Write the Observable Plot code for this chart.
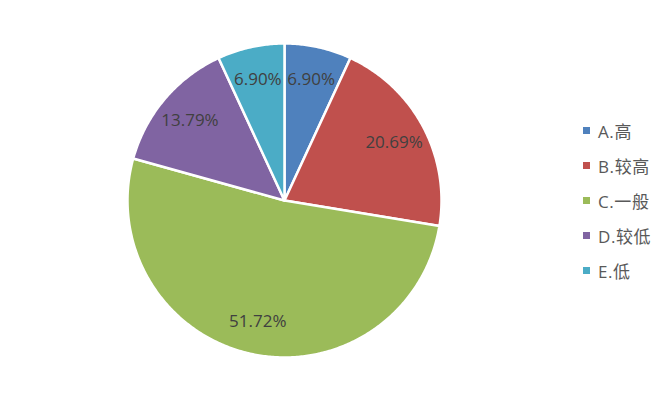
<!DOCTYPE html>
<html><head><meta charset="utf-8">
<script src="https://cdn.jsdelivr.net/npm/d3@7"></script>
<script src="https://cdn.jsdelivr.net/npm/@observablehq/plot@0.6"></script>
<style>
body{margin:0;background:#fff;font-family:"Open Sans","Noto Sans CJK SC",sans-serif;}
#wrap{position:relative;width:668px;height:399px;}
#legend{position:absolute;left:583px;top:112.5px;}
.item{display:flex;align-items:center;height:35px;font-size:17px;letter-spacing:0.6px;color:#595959;}
.sw{width:7px;height:7px;margin-right:8px;}
</style>
</head><body>
<div id="wrap"></div>
<script>
const categories = ["A.高", "B.较高", "C.一般", "D.较低", "E.低"];
const values = [6.90, 20.69, 51.72, 13.79, 6.90];
const labels = ["6.90%", "20.69%", "51.72%", "13.79%", "6.90%"];
const colors = ["#4F81BD", "#C0504D", "#9BBB59", "#8064A2", "#4BACC6"];

const total = d3.sum(values);
const poly = [];
const lab = [];
let acc = 0;
values.forEach((v, i) => {
  const a0 = acc / total * 2 * Math.PI;
  acc += v;
  const a1 = acc / total * 2 * Math.PI;
  const n = Math.max(4, Math.ceil((a1 - a0) / 0.01));
  poly.push({cat: categories[i], x: 0, y: 0});
  for (let k = 0; k <= n; k++) {
    const a = a0 + (a1 - a0) * k / n;
    poly.push({cat: categories[i], x: Math.sin(a), y: Math.cos(a)});
  }
  poly.push({cat: categories[i], x: 0, y: 0});
  const am = (a0 + a1) / 2;
  lab.push({text: labels[i], x: 0.79 * Math.sin(am), y: 0.79 * Math.cos(am)});
});

const chart = Plot.plot({
  width: 668, height: 399,
  marginLeft: 127, marginRight: 227, marginTop: 43, marginBottom: 42,
  x: {domain: [-1, 1], axis: null},
  y: {domain: [-1, 1], axis: null},
  color: {domain: categories, range: colors},
  style: {fontFamily: '"Open Sans", sans-serif', background: "white"},
  marks: [
    Plot.line(poly, {x: "x", y: "y", z: "cat", fill: "cat", stroke: "white", strokeWidth: 2.5, strokeLinejoin: "round", curve: "linear"}),
    Plot.text(lab, {x: "x", y: "y", text: "text", fill: "#404040", fontSize: 17})
  ]
});
document.getElementById("wrap").appendChild(chart);

const legend = d3.select("#wrap").append("div").attr("id", "legend");
categories.forEach((c, i) => {
  const it = legend.append("div").attr("class", "item");
  it.append("div").attr("class", "sw").style("background", colors[i]);
  it.append("span").text(c);
});
</script>
</body></html>
